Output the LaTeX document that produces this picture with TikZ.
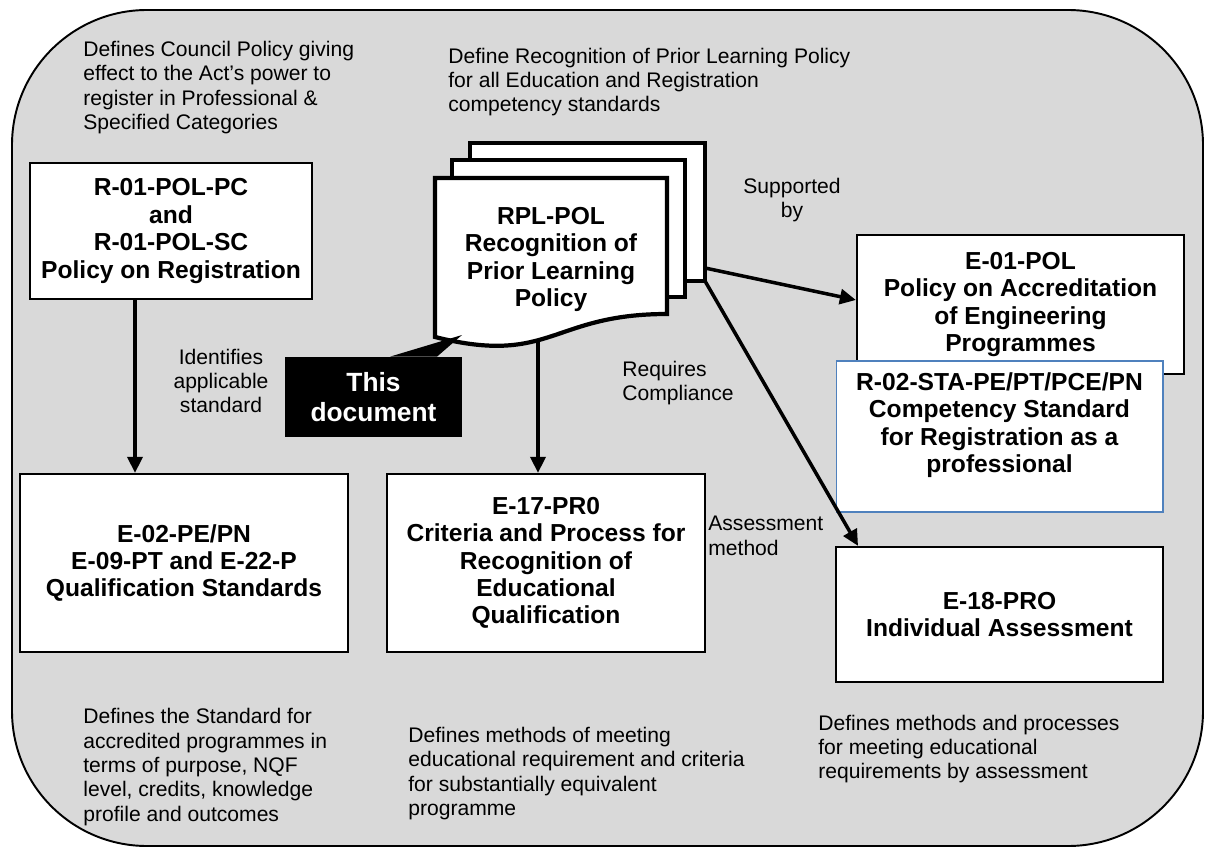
\documentclass[tikz,border=0pt]{standalone}
\usepackage{fontspec}
\setmainfont{Liberation Sans}
\usepackage{tikz}
\usetikzlibrary{arrows.meta}
\definecolor{panelgray}{RGB}{217,217,217}
\definecolor{edgeblue}{RGB}{79,129,189}
\newcommand{\bxfont}{\fontsize{14}{15.6}\selectfont\bfseries}
\newcommand{\ntfont}{\fontsize{12}{13.9}\selectfont}
\tikzset{
    docbox/.style={
        draw, line width = 1.3pt,
        fill = white,
        inner sep = 0pt,
        align = center,
        font = \bxfont
    },
    note/.style = {inner sep = 0pt, align = left, font = \ntfont},
    page/.style = {draw, line width = 2.4pt, fill = white, line join = miter},
    link/.style = {-{Triangle[length=0.32cm,width=0.3cm]}, line width = 2pt}
}

\begin{document}
\begin{tikzpicture}[x=0.02cm, y=-0.02cm]
    \useasboundingbox (0,0) rectangle (1211,848);

    % Grey panel
    \draw[fill = panelgray, line width = 1.1pt, rounded corners = 2.7cm] (12,10) rectangle (1203,846);

    % Document stack
    \draw[page] (470,143) rectangle (705,281);
    \draw[page] (452,160) rectangle (685,297);
    \draw[page] (435,178) -- (667,178) -- (667,314)
        .. controls (551,314) and (551,366) .. (435,337) -- cycle;
    \node[font = \bxfont, align = center] (rpl) at (551,259.5) {RPL-POL\\Recognition of\\Prior Learning\\Policy};
    \coordinate (stackE) at (705,268);
    \coordinate (stackSE) at (705,281);
    \coordinate (docS) at (538,341);

    % Boxes
    \node[docbox, minimum width = 5.64cm, minimum height = 2.72cm] (regpol) at (171,231)
        {R-01-POL-PC\\and\\R-01-POL-SC\\Policy on Registration};
    \node[docbox, minimum width = 6.56cm, minimum height = 3.56cm] (qualstd) at (184,563)
        {E-02-PE/PN\\E-09-PT and E-22-P\\Qualification Standards};
    \node[docbox, minimum width = 6.36cm, minimum height = 3.56cm] (critproc) at (546,563)
        {E-17-PR0\\Criteria and Process for\\Recognition of\\Educational\\Qualification};
    \node[docbox, minimum width = 6.54cm, minimum height = 2.78cm] (accpol) at (1020.5,304.5)
        {E-01-POL\\Policy on Accreditation\\of Engineering\\Programmes};
    \node[docbox, draw = edgeblue, line width = 0.6pt, minimum width = 6.54cm, minimum height = 3.02cm] (compstd) at (999.5,436.5) {};
    \node[font = \bxfont, align = center] (compstdtxt) at (999.5,425)
        {R-02-STA-PE/PT/PCE/PN\\Competency Standard\\for Registration as a\\professional};
    \node[docbox, minimum width = 6.54cm, minimum height = 2.7cm] (indass) at (999.5,614.5)
        {E-18-PRO\\Individual Assessment};

    % Callout
    \node[fill = black, text = white, inner sep = 0pt, align = center,
          minimum width = 3.54cm, minimum height = 1.6cm,
          font = \fontsize{15}{17}\selectfont\bfseries] (thisdoc) at (373.5,397) {This\\document};
    \coordinate (pointertip) at (462,335);
    \fill ([xshift = 0.33cm]thisdoc.north) -- (pointertip) -- ([xshift = 1.27cm]thisdoc.north) -- cycle;

    % Connectors
    \draw[link] ([xshift = -0.72cm]regpol.south) coordinate (regdown) -- (regdown |- qualstd.north);
    \draw[link] (docS) -- (docS |- critproc.north);
    \draw[link] (stackE) -- ([yshift = 0.09cm]accpol.west);
    \draw[link] (stackSE) -- ([xshift = -2.83cm]indass.north);

    % Labels
    \node[note, anchor = west] (regnote) at (83,87.5)
        {Defines Council Policy giving\\effect to the Act’s power to\\register in Professional \&\\Specified Categories};
    \node[note, anchor = west] (rplnote) at (448,82)
        {Define Recognition of Prior Learning Policy\\for all Education and Registration\\competency standards};
    \node[note, align = center] (supby) at (792,200) {Supported\\by};
    \node[note, align = center] (identstd) at (221,381) {Identifies\\applicable\\standard};
    \node[note, anchor = west] (reqcomp) at (622,383) {Requires\\Compliance};
    \node[note, anchor = west] (assmeth) at (708,536) {Assessment\\method};
    \node[note, anchor = west] (qualnote) at (83,767)
        {Defines the Standard for\\accredited programmes in\\terms of purpose, NQF\\level, credits, knowledge\\profile and outcomes};
    \node[note, anchor = west] (critnote) at (408,773.5)
        {Defines methods of meeting\\educational requirement and criteria\\for substantially equivalent\\programme};
    \node[note, anchor = west] (assnote) at (818,749)
        {Defines methods and processes\\for meeting educational\\requirements by assessment};

\end{tikzpicture}
\end{document}
